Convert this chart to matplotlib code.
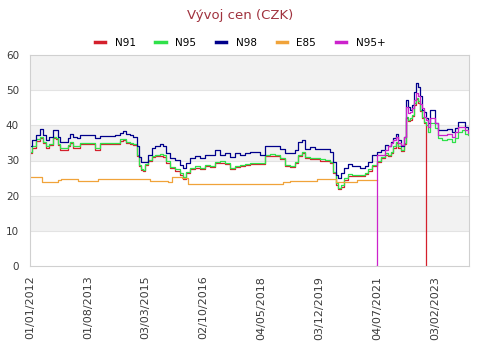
import matplotlib
matplotlib.use("Agg")
import matplotlib.pyplot as plt
import matplotlib.dates as mdates
import numpy as np
import pandas as pd

# dates for N91 / N95 / N98 (step series)
dates = ["2012-01-01", "2012-01-21", "2012-03-01", "2012-04-10", "2012-05-10", "2012-06-09",
         "2012-07-09", "2012-08-18", "2012-09-17", "2012-10-07", "2012-10-27", "2012-12-16",
         "2013-01-15", "2013-02-04", "2013-03-06", "2013-04-15", "2013-05-15", "2013-08-23",
         "2013-10-12", "2013-12-01", "2014-03-11", "2014-04-30", "2014-06-19", "2014-07-19",
         "2014-08-18", "2014-09-27", "2014-10-27", "2014-12-06", "2014-12-26", "2015-01-15",
         "2015-02-04", "2015-02-24", "2015-03-26", "2015-05-05", "2015-06-04", "2015-07-24",
         "2015-08-23", "2015-09-22", "2015-11-01", "2015-12-21", "2016-02-09", "2016-03-10",
         "2016-04-09", "2016-05-19", "2016-07-08", "2016-08-27", "2016-10-16", "2016-12-05",
         "2017-01-24", "2017-03-15", "2017-05-04", "2017-06-23", "2017-08-12", "2017-10-01",
         "2017-11-20", "2018-01-09", "2018-02-28", "2018-04-19", "2018-06-08", "2018-07-28",
         "2018-09-16", "2018-11-05", "2018-12-25", "2019-02-13", "2019-04-04", "2019-05-04",
         "2019-06-13", "2019-07-13", "2019-09-01", "2019-10-21", "2019-12-10", "2020-01-29",
         "2020-03-19", "2020-04-18", "2020-05-18", "2020-06-07", "2020-07-07", "2020-08-06",
         "2020-09-15", "2020-10-25", "2020-12-04", "2021-01-13", "2021-03-04", "2021-04-03",
         "2021-05-13", "2021-07-02", "2021-08-11", "2021-09-20", "2021-10-20", "2021-11-19",
         "2021-12-09", "2022-01-08", "2022-01-28", "2022-02-27", "2022-03-29", "2022-04-18",
         "2022-05-08", "2022-05-28", "2022-06-17", "2022-07-07", "2022-07-27", "2022-08-16",
         "2022-09-05", "2022-09-25", "2022-10-15", "2022-11-04", "2022-11-24", "2022-12-14",
         "2023-02-02", "2023-03-04", "2023-04-13", "2023-06-02", "2023-07-22", "2023-08-21",
         "2023-09-20", "2023-10-30", "2023-11-29", "2023-12-29"]

n98 = [34.0, 35.8, 37.2, 38.9, 37.2, 35.8, 36.8, 38.7, 38.7, 36.8, 35.3, 35.3,
       36.4, 37.5, 36.7, 36.3, 37.2, 37.2, 36.3, 37.0, 37.0, 37.2, 37.7, 38.4,
       37.5, 37.2, 36.7, 34.0, 31.0, 29.7, 29.7, 29.7, 31.6, 33.6, 34.1, 34.7,
       34.1, 32.1, 30.7, 30.1, 28.7, 27.9, 29.3, 30.7, 31.3, 30.7, 31.6, 31.6,
       33.0, 31.6, 32.1, 30.9, 32.1, 31.6, 32.1, 32.5, 32.3, 31.6, 34.1, 34.1,
       34.1, 33.4, 32.1, 32.1, 33.0, 35.3, 35.8, 33.4, 33.8, 33.4, 33.3, 33.3,
       32.5, 29.7, 25.9, 25.0, 26.4, 27.9, 29.0, 28.5, 28.3, 27.9, 28.3, 29.7,
       31.6, 32.5, 33.0, 34.4, 34.0, 35.3, 36.4, 37.5, 35.8, 34.0, 36.8, 47.2,
       45.3, 44.5, 45.8, 49.6, 52.1, 51.0, 48.2, 44.4, 43.9, 42.1, 40.6, 44.4,
       40.6, 38.7, 38.7, 38.9, 38.2, 39.2, 41.0, 41.0, 39.6, 38.7]

n95 = [32.5, 34.0, 36.0, 36.7, 35.3, 34.0, 34.8, 36.8, 36.4, 34.8, 33.5, 33.5,
       34.5, 35.3, 34.0, 34.0, 35.0, 35.0, 33.5, 35.0, 35.0, 35.0, 36.0, 36.2,
       35.3, 35.0, 34.8, 31.6, 28.8, 27.6, 27.3, 29.0, 30.2, 31.3, 31.6, 31.8,
       31.5, 29.8, 28.2, 27.5, 26.4, 25.2, 26.8, 27.9, 28.3, 27.9, 28.7, 28.5,
       29.7, 29.8, 29.3, 27.9, 28.5, 28.7, 29.0, 29.3, 29.4, 29.3, 31.6, 31.8,
       31.6, 30.7, 28.7, 28.5, 29.7, 31.6, 32.5, 31.1, 30.7, 30.8, 30.3, 30.2,
       29.7, 26.8, 23.5, 22.3, 23.0, 24.9, 26.1, 25.9, 25.9, 25.9, 26.5, 27.5,
       28.8, 30.0, 31.1, 32.0, 31.6, 32.5, 34.0, 35.3, 34.0, 33.0, 35.0, 42.5,
       41.5, 42.0, 43.0, 46.3, 47.8, 46.8, 44.5, 42.5, 41.0, 40.1, 38.2, 40.6,
       39.2, 36.4, 35.8, 36.0, 35.3, 36.4, 38.2, 38.7, 37.5, 37.2]

# N91 runs until 2022-11-04, where the feed drops to 0
n91 = [32.1, 33.6, 35.6, 36.3, 34.9, 33.6, 34.4, 36.4, 36.0, 34.4, 33.1, 33.1,
       34.1, 34.9, 33.6, 33.6, 34.6, 34.6, 33.1, 34.6, 34.6, 34.6, 35.6, 35.8,
       34.9, 34.6, 34.4, 31.2, 28.4, 27.2, 26.9, 28.6, 29.8, 30.9, 31.2, 31.4,
       31.1, 29.4, 27.8, 27.1, 26.0, 24.8, 26.4, 27.5, 27.9, 27.5, 28.3, 28.1,
       29.3, 29.4, 28.9, 27.5, 28.1, 28.3, 28.6, 28.9, 29.0, 28.9, 31.2, 31.4,
       31.2, 30.3, 28.3, 28.1, 29.3, 31.2, 32.1, 30.7, 30.3, 30.4, 29.9, 29.8,
       29.3, 26.4, 23.1, 21.9, 22.6, 24.5, 25.7, 25.5, 25.5, 25.5, 26.1, 27.1,
       28.4, 29.6, 30.7, 31.6, 31.2, 32.1, 33.6, 34.9, 33.6, 32.6, 34.6, 42.1,
       41.1, 41.6, 42.6, 45.9, 47.4, 46.4, 44.1, 42.1, 40.6, 0.0]

n95p_dates = ["2021-06-25", "2021-07-02", "2021-09-20", "2021-10-20", "2021-11-19", "2021-12-09",
              "2022-01-08", "2022-01-28", "2022-02-27", "2022-03-29", "2022-04-18", "2022-05-08",
              "2022-05-28", "2022-06-17", "2022-07-07", "2022-07-27", "2022-08-16", "2022-09-05",
              "2022-09-25", "2022-10-15", "2022-11-04", "2022-11-24", "2022-12-14", "2023-02-02",
              "2023-03-04", "2023-04-13", "2023-06-02", "2023-07-22", "2023-08-21", "2023-09-20",
              "2023-10-30", "2023-11-29", "2023-12-29"]
n95p = [0.0, 31.6, 33.0, 34.0, 35.0, 35.8, 36.8, 35.0, 34.4, 36.8, 45.3, 43.5,
        43.8, 44.9, 47.2, 49.2, 48.2, 46.0, 44.9, 42.5, 41.5, 39.6, 42.1, 40.6,
        37.2, 37.2, 37.4, 36.8, 38.0, 39.6, 39.4, 38.7, 37.7]

e85_dates = ["2012-01-01", "2012-04-30", "2012-10-07", "2012-11-06", "2013-04-25", "2013-11-11",
             "2015-04-15", "2015-10-12", "2015-11-21", "2016-02-29", "2016-04-29", "2018-12-05",
             "2019-02-13", "2019-11-10", "2020-05-18", "2020-12-14", "2021-07-02"]
e85 = [25.2, 23.8, 24.5, 24.7, 24.1, 24.7, 24.3, 23.9, 25.3, 25.0, 23.3, 23.9,
       24.2, 24.6, 23.8, 24.4, 24.4]

xticks = ["2012-01-01", "2013-08-01", "2015-03-03", "2016-10-02", "2018-05-04",
          "2019-12-03", "2021-07-04", "2023-02-03"]

series = [("N91", dates[:len(n91)], n91, "#d4202c"),
          ("N95", dates, n95, "#2fe14a"),
          ("N98", dates, n98, "#00008b"),
          ("E85", e85_dates, e85, "#f0a33a"),
          ("N95+", n95p_dates, n95p, "#cc22cc")]

fig = plt.figure(figsize=(4.8, 3.52), dpi=100)
ax = fig.add_axes([30 / 480, 1 - 266 / 352, 439 / 480, 211 / 352])

for lo in (10, 30, 50):
    ax.axhspan(lo, lo + 10, color="#f2f2f2", zorder=0, lw=0)
for y in range(10, 60, 10):
    ax.axhline(y, color="#e3e3e3", lw=0.8, zorder=0.5)

for name, d, v, c in series:
    ax.plot(pd.to_datetime(d), v, drawstyle="steps-post", color=c, lw=0.9, label=name)

ax.set_ylim(0, 60)
ax.set_yticks(range(0, 61, 10))
ax.set_xlim(pd.Timestamp("2012-01-01"), pd.Timestamp("2024-01-07"))
ax.set_xticks(pd.to_datetime(xticks))
ax.xaxis.set_major_formatter(mdates.DateFormatter("%d/%m/%Y"))
ax.tick_params(axis="x", labelrotation=90, length=0, pad=7, labelsize=8, colors="#3a3a3a")
ax.tick_params(axis="y", length=0, pad=8, labelsize=7.5, colors="#3a3a3a")
for s in ax.spines.values():
    s.set_color("#d0d0d0")
    s.set_linewidth(0.8)

fig.text(0.5, 1 - 16 / 352, "Vývoj cen (CZK)", ha="center", va="center",
         fontsize=9.5, color="#a0323e")
leg = fig.legend(loc="center", bbox_to_anchor=(0.5, 1 - 43 / 352), ncol=5, frameon=False,
                 fontsize=7.5, handlelength=1.0, columnspacing=1.9, handletextpad=0.9)
for h in leg.get_lines():
    h.set_linewidth(2.5)

fig.savefig("out.png", dpi=100)
